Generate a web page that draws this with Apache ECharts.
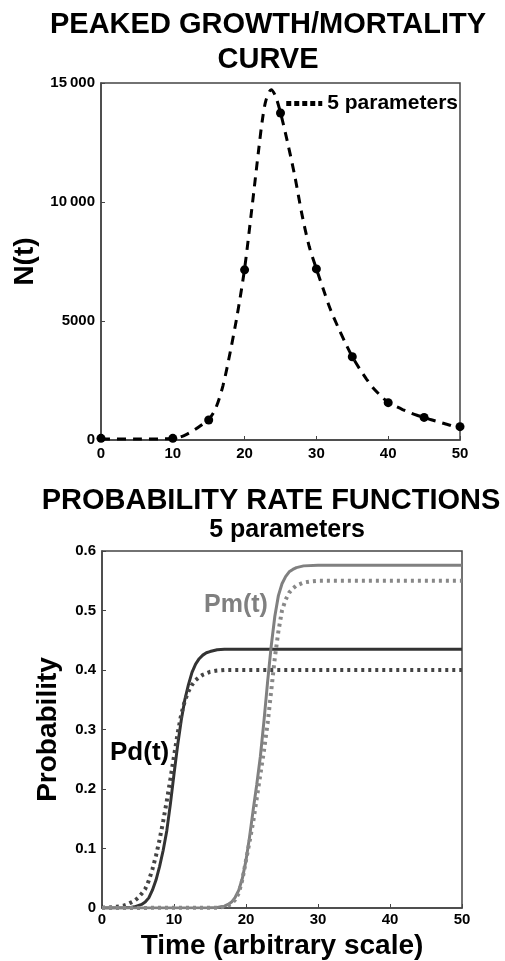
<!DOCTYPE html>
<html>
<head>
<meta charset="utf-8">
<script src="https://cdn.jsdelivr.net/npm/echarts@6/dist/echarts.min.js"></script>
<style>
  html, body { margin: 0; padding: 0; background: #fff; }
  #chart { width: 505px; height: 961px; }
</style>
</head>
<body>
<div id="chart"></div>
<script>
// top panel: observed points and fitted 5-parameter curve
var obsT = [0, 10, 15, 20, 25, 30, 35, 40, 45, 50];
var obsN = [70, 70, 840, 7150, 13740, 7190, 3500, 1570, 950, 560];
var fitT = [0, 5, 10, 11, 12, 13, 14, 15, 16, 17, 18, 19, 20, 21, 22, 22.5, 23, 23.7, 24.3, 25, 26, 27, 28, 29, 30,
            31, 32, 33, 34, 35, 36, 37, 38, 39, 40, 41, 42, 43, 44, 45, 46, 47, 48, 49, 50];
var fitN = [40, 40, 60, 120, 250, 420, 630, 860, 1350, 2300, 3700, 5300, 7200, 9700, 12300, 13500, 14300, 14720, 14450, 13750, 12480, 11075, 9460, 8130, 7190,
            6300, 5450, 4750, 4100, 3500, 3000, 2550, 2150, 1850, 1570, 1420, 1280, 1150, 1040, 950, 850, 760, 670, 590, 450];

// bottom panel: probability rate functions (solid and dotted)
var pdT = [0, 3, 4, 4.5, 5, 5.5, 6, 6.5, 7, 7.5, 8, 8.5, 9, 9.5, 10, 10.5, 11, 11.5, 12, 12.5, 13, 13.5, 14, 14.5, 15, 16, 17, 50];
var pdSolid = [0, 0.0005, 0.001, 0.002, 0.004, 0.006, 0.01, 0.017, 0.03, 0.047, 0.07, 0.097, 0.13, 0.175, 0.225, 0.273, 0.315, 0.35, 0.375, 0.396, 0.41, 0.419, 0.425, 0.429, 0.431, 0.434, 0.435, 0.435];
var pdDotT = [0, 1, 2, 3, 3.5, 4, 4.5, 5, 5.5, 6, 6.5, 7, 7.5, 8, 8.5, 9, 9.5, 10, 10.5, 11, 11.5, 12, 12.5, 13, 13.5, 14, 15, 16, 17, 50];
var pdDotted = [0.0005, 0.001, 0.002, 0.004, 0.006, 0.009, 0.012, 0.017, 0.024, 0.032, 0.046, 0.065, 0.088, 0.115, 0.146, 0.18, 0.217, 0.255, 0.293, 0.325, 0.348, 0.364, 0.375, 0.383, 0.388, 0.392, 0.397, 0.399, 0.4, 0.4];
var pmT = [0, 15, 16, 16.5, 17, 17.5, 18, 18.5, 19, 19.5, 20, 20.5, 21, 21.5, 22, 22.5, 23, 23.5, 24, 24.5, 25, 25.5, 26, 26.5, 27, 28, 30, 50];
var pmSolid = [0, 0.0005, 0.001, 0.002, 0.003, 0.006, 0.01, 0.018, 0.03, 0.05, 0.08, 0.12, 0.165, 0.208, 0.255, 0.315, 0.38, 0.44, 0.49, 0.525, 0.545, 0.557, 0.565, 0.569, 0.572, 0.575, 0.576, 0.576];
var pmDotT = [0, 16, 17, 17.5, 18, 18.5, 19, 19.5, 20, 20.5, 21, 21.5, 22, 22.5, 23, 23.5, 24, 24.5, 25, 25.5, 26, 26.5, 27, 28, 29, 30, 50];
var pmDotted = [0, 0.0005, 0.002, 0.004, 0.007, 0.014, 0.025, 0.048, 0.08, 0.112, 0.145, 0.185, 0.225, 0.265, 0.31, 0.365, 0.42, 0.465, 0.5, 0.518, 0.53, 0.537, 0.542, 0.547, 0.549, 0.55, 0.55];

function pairs(xs, ys) {
    var out = [];
    for (var i = 0; i < xs.length; i++) {
        out.push([xs[i], ys[i]]);
    }
    return out;
}

var font = 'Liberation Sans, Arial, Helvetica, sans-serif';
var axisCol = '#444';

function axisBase(extra) {
    var a = {
        axisLine: { show: true, lineStyle: { color: axisCol, width: 1.5 } },
        axisTick: { show: true, inside: true, length: 4, lineStyle: { color: axisCol } },
        splitLine: { show: false },
        axisLabel: { color: '#000', fontFamily: font, fontWeight: 'bold', fontSize: 15 },
        nameTextStyle: { color: '#000', fontFamily: font, fontWeight: 'bold', fontSize: 28 }
    };
    for (var k in extra) a[k] = extra[k];
    return a;
}

var chart = echarts.init(document.getElementById('chart'));
var option = {
    backgroundColor: '#fff',
    animation: false,
    title: [
        {
            text: 'PEAKED GROWTH/MORTALITY\nCURVE',
            left: 263, top: 2, textAlign: 'center',
            textStyle: { fontFamily: font, fontWeight: 'bold', fontSize: 29, lineHeight: 35, color: '#000' }
        },
        {
            text: 'PROBABILITY RATE FUNCTIONS',
            left: 266, top: 481, textAlign: 'center',
            textStyle: { fontFamily: font, fontWeight: 'bold', fontSize: 29, color: '#000' }
        },
        {
            text: '5 parameters',
            left: 282, top: 513, textAlign: 'center',
            textStyle: { fontFamily: font, fontWeight: 'bold', fontSize: 25, color: '#000' }
        }
    ],
    legend: {
        data: ['5 parameters'],
        right: 42, top: 88,
        itemWidth: 36, itemHeight: 6, itemGap: 6,
        lineStyle: { type: [5, 3], width: 5, color: '#000' },
        itemStyle: { color: '#000', opacity: 0 },
        textStyle: { fontFamily: font, fontWeight: 'bold', fontSize: 21, color: '#000' }
    },
    grid: [
        { left: 101, top: 83, width: 359, height: 357, show: true, borderColor: axisCol, borderWidth: 1.5,
          outerBoundsMode: 'none', containLabel: false },
        { left: 102, top: 551, width: 360, height: 357, show: true, borderColor: axisCol, borderWidth: 1.5,
          outerBoundsMode: 'none', containLabel: false }
    ],
    xAxis: [
        axisBase({ gridIndex: 0, type: 'value', min: 0, max: 50, interval: 10,
            axisLabel: { color: '#000', fontFamily: font, fontWeight: 'bold', fontSize: 15, margin: 6 } }),
        axisBase({ gridIndex: 1, type: 'value', min: 0, max: 50, interval: 10,
            name: 'Time (arbitrary scale)', nameLocation: 'middle', nameGap: 24,
            axisLabel: { color: '#000', fontFamily: font, fontWeight: 'bold', fontSize: 15, margin: 4 } })
    ],
    yAxis: [
        axisBase({ gridIndex: 0, type: 'value', min: 0, max: 15000, interval: 5000,
            name: 'N(t)', nameLocation: 'middle', nameGap: 54,
            axisLabel: {
                color: '#000', fontFamily: font, fontWeight: 'bold', fontSize: 15, margin: 6,
                formatter: function (v) {
                    return v >= 10000 ? Math.floor(v / 1000) + '\u2009000' : String(v);
                }
            } }),
        axisBase({ gridIndex: 1, type: 'value', min: 0, max: 0.6, interval: 0.1,
            name: 'Probability', nameLocation: 'middle', nameGap: 40,
            axisLabel: { color: '#000', fontFamily: font, fontWeight: 'bold', fontSize: 15, margin: 6,
                formatter: function (v) { return v === 0 ? '0' : v.toFixed(1); } } })
    ],
    series: [
        {
            name: '5 parameters', type: 'line', xAxisIndex: 0, yAxisIndex: 0,
            data: pairs(fitT, fitN), smooth: 0.3, showSymbol: false, symbol: 'none',
            itemStyle: { color: '#000' },
            lineStyle: { color: '#000', width: 3, type: [9, 7] }, z: 3
        },
        {
            name: 'observed', type: 'scatter', xAxisIndex: 0, yAxisIndex: 0,
            data: pairs(obsT, obsN), symbol: 'circle', symbolSize: 9,
            itemStyle: { color: '#000', opacity: 1 }, z: 4
        },
        {
            name: 'Pd solid', type: 'line', xAxisIndex: 1, yAxisIndex: 1,
            data: pairs(pdT, pdSolid), symbol: 'none',
            lineStyle: { color: '#333', width: 3 }
        },
        {
            name: 'Pd dotted', type: 'line', xAxisIndex: 1, yAxisIndex: 1,
            data: pairs(pdDotT, pdDotted), symbol: 'none',
            lineStyle: { color: '#444', width: 4, type: [3, 4] }
        },
        {
            name: 'Pm solid', type: 'line', xAxisIndex: 1, yAxisIndex: 1,
            data: pairs(pmT, pmSolid), symbol: 'none',
            lineStyle: { color: '#808080', width: 3 }
        },
        {
            name: 'Pm dotted', type: 'line', xAxisIndex: 1, yAxisIndex: 1,
            data: pairs(pmDotT, pmDotted), symbol: 'none',
            lineStyle: { color: '#888', width: 4, type: [3, 4] }
        }
    ],
    graphic: [
        { type: 'text', left: 204, top: 593,
          style: { text: 'Pm(t)', fill: '#808080', font: 'bold 25px ' + font } },
        { type: 'text', left: 110, top: 740,
          style: { text: 'Pd(t)', fill: '#000', font: 'bold 26px ' + font } }
    ]
};
chart.setOption(option);
</script>
</body>
</html>
